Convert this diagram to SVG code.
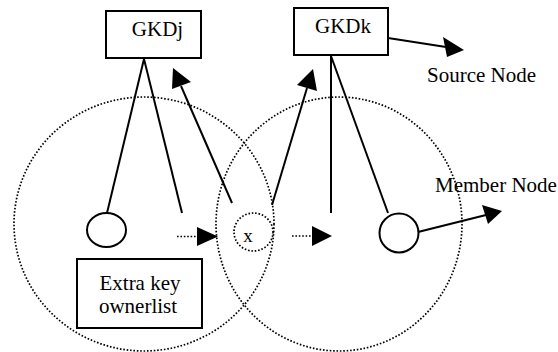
<svg xmlns="http://www.w3.org/2000/svg" width="558" height="352" viewBox="0 0 558 352">
<style>
text{font-family:'Liberation Serif','Times New Roman',Times,serif;font-size:21px;fill:#000}
.box{fill:#fff;stroke:#000;stroke-width:2}
.ln{stroke:#000;stroke-width:2;fill:none}
.dot{stroke:#000;stroke-width:1.7;fill:none;stroke-dasharray:1.6 1.8}
.ah{fill:#000}
</style>
<rect width="558" height="352" fill="#fff"/>
<g id="regions">
<ellipse class="dot" cx="144" cy="224" rx="130" ry="127"/>
<ellipse class="dot" cx="339" cy="224" rx="123" ry="127"/>
</g>
<g id="connectors">
<line class="ln" x1="144" y1="59" x2="107" y2="213"/>
<line class="ln" x1="144" y1="59" x2="182" y2="213"/>
<line class="ln" x1="331" y1="56" x2="331" y2="213"/>
<line class="ln" x1="331" y1="56" x2="388" y2="213"/>
<line class="dot" x1="177" y1="236.5" x2="198" y2="236.5"/>
<polygon class="ah" points="197,227 218,236.5 197,246"/>
<line class="dot" x1="292" y1="236" x2="313" y2="236"/>
<polygon class="ah" points="312,226 332,236 312,246"/>
<line class="ln" x1="232" y1="203" x2="181" y2="86"/>
<polygon class="ah" points="173,68 172,89 191,82"/>
<line class="ln" x1="272" y1="205" x2="307" y2="88"/>
<polygon class="ah" points="313,69 297,85 317,91"/>
<line class="ln" x1="388" y1="38" x2="446" y2="47"/>
<polygon class="ah" points="464,50 443,37 447,57"/>
<line class="ln" x1="418" y1="232" x2="486" y2="215"/>
<polygon class="ah" points="502,211 482,205 488,224"/>
</g>
<g id="GKDj">
<rect class="box" x="106" y="11" width="95" height="47"/>
<text x="157.5" y="36" text-anchor="middle" font-family="Liberation Serif, serif">GKDj</text>
</g>
<g id="GKDk">
<rect class="box" x="294" y="8" width="94" height="47"/>
<text x="343" y="33" text-anchor="middle" font-family="Liberation Serif, serif">GKDk</text>
</g>
<g id="source-node">
<text x="427" y="82" font-family="Liberation Serif, serif">Source Node</text>
</g>
<g id="member-node">
<text x="435" y="192" font-family="Liberation Serif, serif">Member Node</text>
</g>
<g id="left-node">
<ellipse class="ln" cx="106.5" cy="230" rx="19.5" ry="17"/>
</g>
<g id="x-node">
<ellipse class="dot" cx="253.5" cy="232" rx="19.5" ry="19"/>
<text x="248" y="242" text-anchor="middle" font-family="Liberation Serif, serif" style="font-size:19px">x</text>
</g>
<g id="member-circle">
<circle class="ln" cx="399" cy="233" r="19.5"/>
</g>
<g id="extra-key">
<rect class="box" x="77" y="259" width="125" height="69"/>
<text x="140" y="290" text-anchor="middle" font-family="Liberation Serif, serif">Extra key</text>
<text x="138" y="313" text-anchor="middle" font-family="Liberation Serif, serif">ownerlist</text>
</g>
</svg>
